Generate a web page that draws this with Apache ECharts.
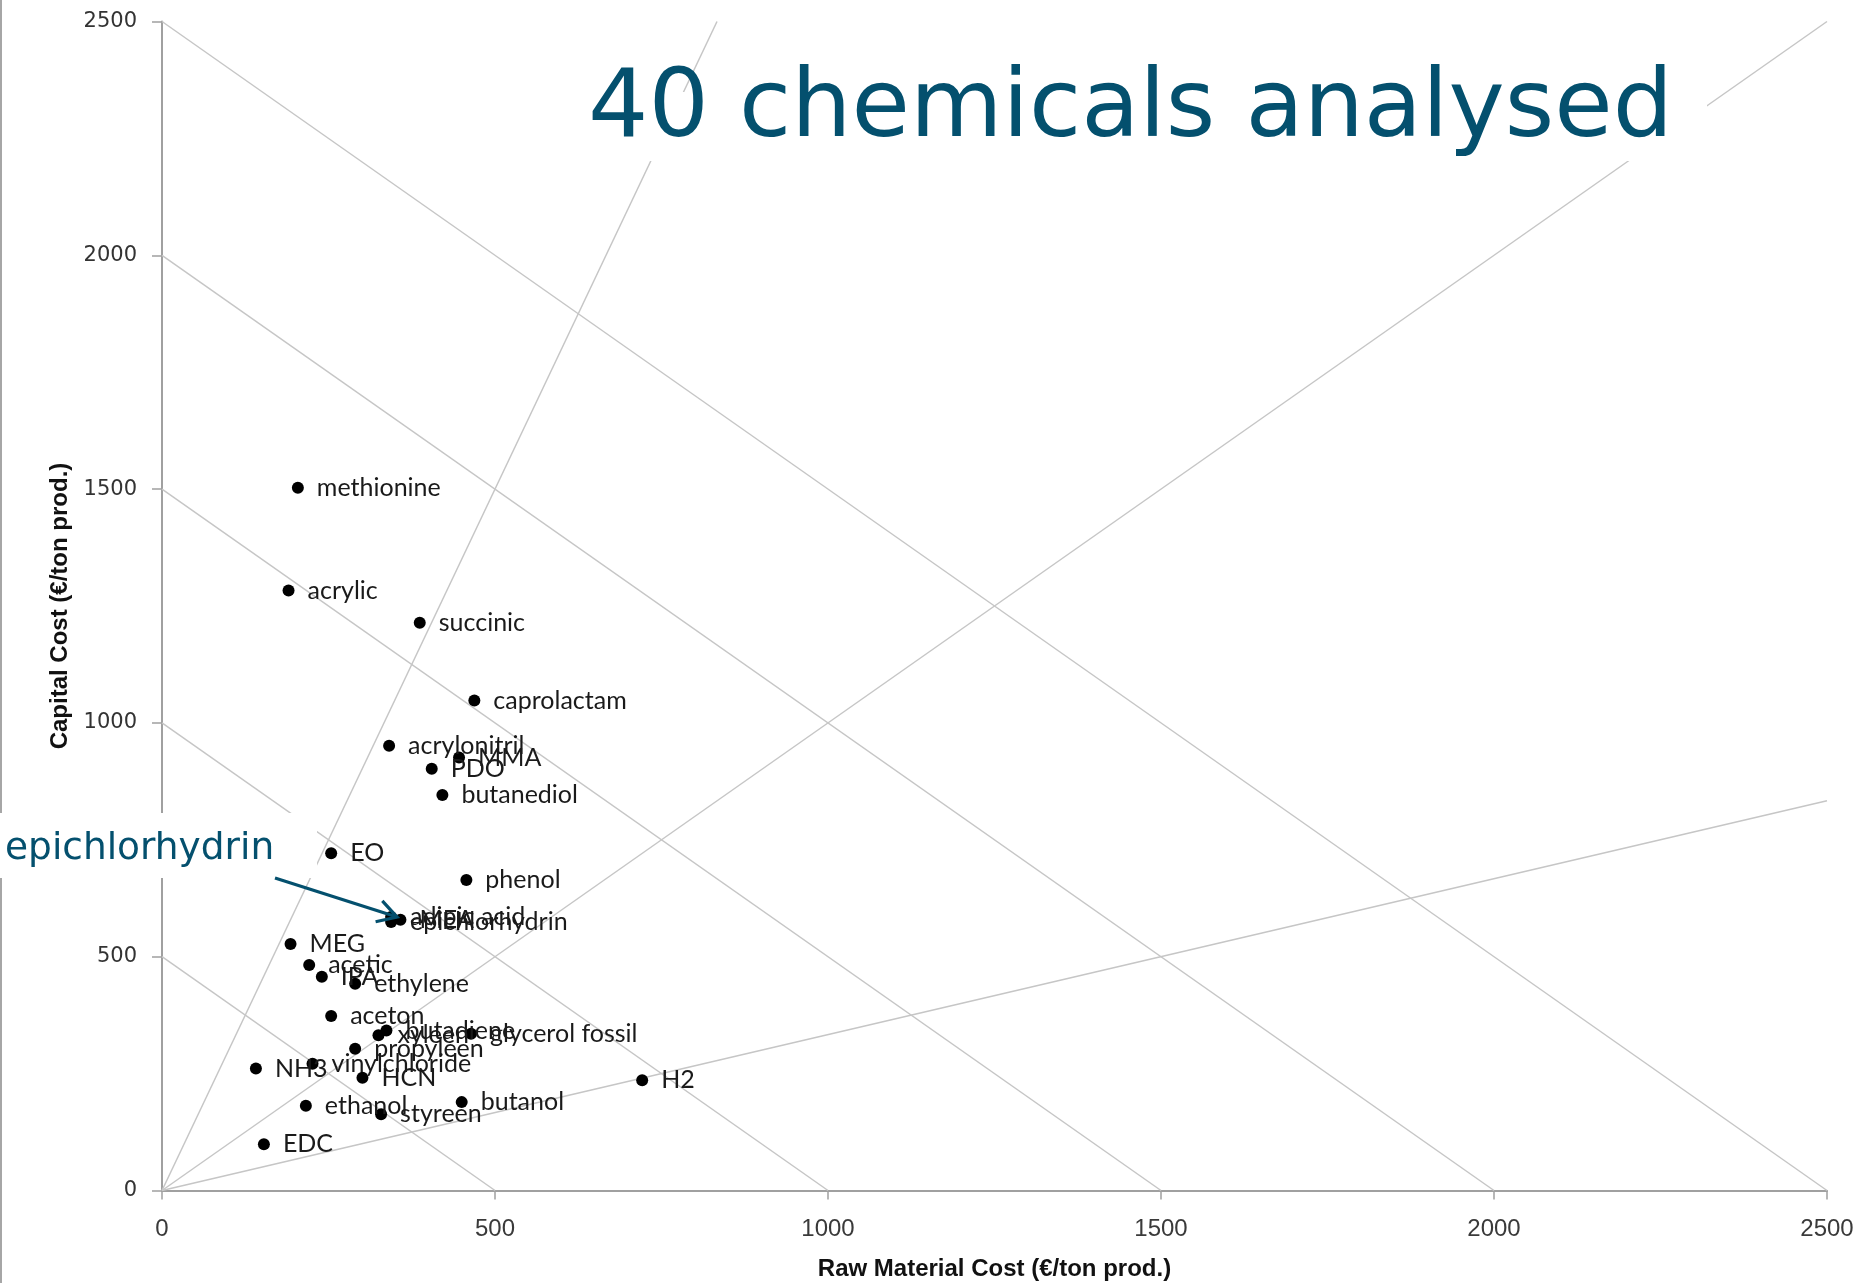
<!DOCTYPE html>
<html>
<head>
<meta charset="utf-8">
<script src="https://cdn.jsdelivr.net/npm/echarts@6/dist/echarts.min.js"></script>
<style>
  html, body { margin: 0; padding: 0; background: #ffffff; }
  #chart { width: 1876px; height: 1283px; }
</style>
</head>
<body>
<div id="chart"></div>
<script>
// Cost breakdown per chemical (€/ton product)
const chemicals = [
  'methionine', 'acrylic', 'succinic', 'caprolactam', 'acrylonitril', 'MMA', 'PDO',
  'butanediol', 'EO', 'phenol', 'adipic acid', 'MEA', 'epichlorhydrin', 'MEG', 'acetic',
  'IPA', 'ethylene', 'aceton', 'butadiene', 'xyleen', 'glycerol fossil', 'propyleen',
  'NH3', 'vinylchloride', 'HCN', 'ethanol', 'styreen', 'butanol', 'EDC', 'H2'
];
const rawMaterialCost = [
  204, 190, 387, 469, 341, 446, 405,
  421, 254, 457, 344, 358, 344, 193, 221,
  240, 290, 254, 337, 325, 464, 290,
  141, 226, 301, 216, 329, 450, 153, 721
];
const capitalCost = [
  1503, 1283, 1214, 1048, 951, 926, 902,
  846, 721, 664, 585, 579, 574, 527, 482,
  457, 442, 373, 342, 332, 335, 303,
  261, 271, 241, 181, 163, 189, 99, 236
];

// Axis ticks
const axisTicks = [0, 500, 1000, 1500, 2000, 2500];
// Reference lines: constant total cost (raw + capital) and capital/raw ratios
const isoTotals = [500, 1000, 1500, 2000, 2500];
const capitalToRawRatios = [3, 1, 1 / 3];

const highlighted = 'epichlorhydrin';
const accent = '#04506e';
const axisMax = axisTicks[axisTicks.length - 1];
const axisStep = axisTicks[1] - axisTicks[0];

const guideStyle = { color: '#c6c6c6', width: 1.5 };
const guideSeries = [];
isoTotals.forEach(function (t) {
  guideSeries.push({
    type: 'line', silent: true, showSymbol: false, animation: false, z: 1,
    lineStyle: guideStyle, data: [[0, t], [t, 0]]
  });
});
capitalToRawRatios.forEach(function (r) {
  guideSeries.push({
    type: 'line', silent: true, showSymbol: false, animation: false, z: 1,
    lineStyle: guideStyle,
    data: [[0, 0], [Math.min(axisMax, axisMax / r), Math.min(axisMax, axisMax * r)]]
  });
});

const points = chemicals.map(function (n, i) {
  return { name: n, value: [rawMaterialCost[i], capitalCost[i]] };
});

const axisColor = '#a0a0a0';
const plainNumber = function (v) { return String(v); };
const chart = echarts.init(document.getElementById('chart'), null, { renderer: 'canvas' });

const option = {
  backgroundColor: '#ffffff',
  animation: false,
  grid: { left: 162, right: 49, top: 21.5, bottom: 92.5, containLabel: false, outerBoundsMode: 'none' },
  xAxis: {
    type: 'value', min: 0, max: axisMax, interval: axisStep,
    name: 'Raw Material Cost (€/ton prod.)', nameLocation: 'middle', nameGap: 67,
    nameTextStyle: { fontFamily: 'Liberation Sans', fontWeight: 'bold', fontSize: 24, color: '#111' },
    axisLine: { show: true, lineStyle: { color: axisColor, width: 2 } },
    axisTick: { show: true, length: 9, lineStyle: { color: axisColor, width: 1.5 } },
    axisLabel: { margin: 27, fontFamily: 'Liberation Sans', fontSize: 24,
                 color: '#3a3a3a', formatter: plainNumber },
    splitLine: { show: false }
  },
  yAxis: {
    type: 'value', min: 0, max: axisMax, interval: axisStep,
    name: 'Capital Cost (€/ton prod.)', nameLocation: 'middle', nameGap: 81,
    nameTextStyle: { fontFamily: 'Liberation Sans', fontWeight: 'bold', fontSize: 24, color: '#111' },
    axisLine: { show: true, lineStyle: { color: axisColor, width: 2 } },
    axisTick: { show: true, length: 10, lineStyle: { color: axisColor, width: 1.5 } },
    axisLabel: { margin: 25, fontFamily: 'DejaVu Sans', fontSize: 21, color: '#333333', formatter: plainNumber },
    splitLine: { show: false }
  },
  series: guideSeries.concat([{
    type: 'scatter', name: 'chemicals', z: 5,
    symbol: 'circle', symbolSize: 12,
    itemStyle: { color: '#000000', opacity: 1 },
    label: {
      show: true, position: 'right', distance: 13, formatter: '{b}',
      fontFamily: 'Lato', fontSize: 25, color: '#1a1a1a'
    },
    data: points
  }])
};
chart.setOption(option);

// Overlay: title, callout box and arrow pointing to the highlighted chemical
const scatterIndex = guideSeries.length;
const hi = chemicals.indexOf(highlighted);
const target = chart.convertToPixel({ seriesIndex: scatterIndex }, [rawMaterialCost[hi], capitalCost[hi]]);
const tip = [target[0] + 6, target[1] - 5];
const start = [275, 878];
const ang = Math.atan2(tip[1] - start[1], tip[0] - start[0]);
const headLen = 22, headSpread = Math.PI / 6;
const wing1 = [tip[0] - headLen * Math.cos(ang - headSpread), tip[1] - headLen * Math.sin(ang - headSpread)];
const wing2 = [tip[0] - headLen * Math.cos(ang + headSpread), tip[1] - headLen * Math.sin(ang + headSpread)];

chart.setOption({
  graphic: [
    { type: 'line', z: 50, silent: true,
      shape: { x1: 1, y1: 0, x2: 1, y2: 1283 }, style: { stroke: '#a6a6a6', lineWidth: 2 } },
    { type: 'rect', z: 60, silent: true,
      shape: { x: 585, y: 92, width: 1122, height: 69 }, style: { fill: '#ffffff' } },
    { type: 'text', z: 61, silent: true, x: 588, y: 111,
      style: { text: '40 chemicals analysed', fontFamily: 'DejaVu Sans', fontSize: 95,
               fill: accent, verticalAlign: 'middle', align: 'left' } },
    { type: 'rect', z: 60, silent: true,
      shape: { x: 0, y: 813, width: 317, height: 65 }, style: { fill: '#ffffff' } },
    { type: 'text', z: 61, silent: true, x: 5, y: 849,
      style: { text: highlighted, fontFamily: 'DejaVu Sans', fontSize: 37.5,
               fill: accent, verticalAlign: 'middle', align: 'left' } },
    { type: 'polyline', z: 62, silent: true,
      shape: { points: [start, tip] }, style: { stroke: accent, lineWidth: 3.2, fill: null } },
    { type: 'polyline', z: 62, silent: true,
      shape: { points: [wing1, tip, wing2] }, style: { stroke: accent, lineWidth: 3.2, fill: null } }
  ]
});
</script>
</body>
</html>
